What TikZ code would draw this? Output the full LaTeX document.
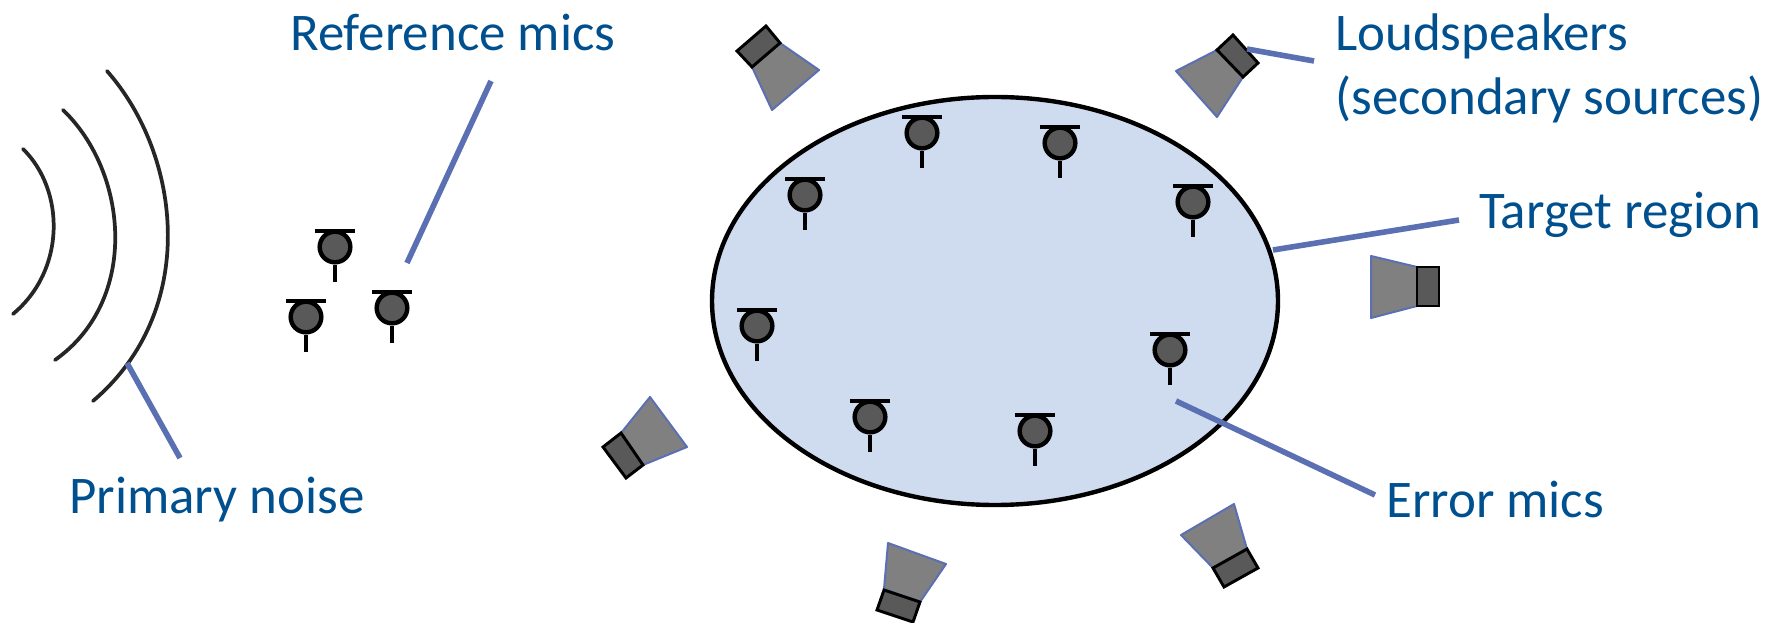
\documentclass[tikz,border=0pt]{standalone}
\usepackage{fontspec}
\setmainfont{Carlito}
\usepackage{tikz}
\usetikzlibrary{positioning}
\definecolor{labelc}{HTML}{00508F}
\definecolor{leaderc}{HTML}{5B6FB3}
\definecolor{regionc}{HTML}{CFDCEF}
\definecolor{conec}{HTML}{808080}
\definecolor{magnetc}{HTML}{595959}
\tikzset{
  lbl/.style={text=labelc, font=\fontsize{39.7}{48}\selectfont, inner sep=0pt, align=left},
  leader/.style={leaderc, line width=4.2pt},
  wave/.style={black!85, line width=2.8pt, line cap=round},
  cone/.style={fill=conec, draw=leaderc, line width=1.5pt, line join=round},
  magnet/.style={fill=magnetc, draw=black, line width=2.2pt, line join=miter},
  mic/.style={circle, fill=magnetc, draw=black, line width=3.3pt, minimum size=23pt, inner sep=0pt},
}
\begin{document}
\begin{tikzpicture}[x=0.75pt, y=-0.75pt]
  \useasboundingbox (0,0) rectangle (1781,623);
  % target region
  \draw[fill=regionc, draw=black, line width=3.3pt] (995,301) ellipse [x radius=283, y radius=204];
  % noise fronts
  \draw[wave] (107,71) .. controls (182,156) and (199,311) .. (93,401);
  \draw[wave] (63,110) .. controls (128,172) and (140,300) .. (55,360);
  \draw[wave] (23,149) .. controls (65,190) and (66,270) .. (13,314);
  % mics
  \foreach \n/\x/\y in {r1/335/247, r2/306/317, r3/392/308,
      e1/922/133, e2/1060/143, e3/805/195, e4/1193/202,
      e5/757/326, e6/1170/350, e7/870/417, e8/1035/431} {
    \node[mic] (\n) at (\x,\y) {};
    \draw[black, line width=3.3pt] (\x-20,\y-16) -- (\x+20,\y-16);
    \draw[black, line width=3.3pt] (\n.south) -- ++(0,17);
  }
  % loudspeakers
  \draw[cone] (1176,71) -- (1217,50) -- (1243,77) -- (1217,117) -- cycle;
  \draw[magnet] (1217,50) -- (1233,35) -- (1258,63) -- (1243,77) -- cycle;
  \draw[cone] (1371,256) -- (1417,267) -- (1417,306) -- (1371,318) -- cycle;
  \draw[magnet] (1417,267) -- (1439,267) -- (1439,306) -- (1417,306) -- cycle;
  \draw[cone] (650,397) -- (687,447) -- (643,465) -- (621,433) -- cycle;
  \draw[magnet] (621,433) -- (603,447) -- (626,478) -- (643,465) -- cycle;
  \draw[cone] (888,543) -- (946,564) -- (920,602) -- (884,589) -- cycle;
  \draw[magnet] (884,590) -- (920,602) -- (913,622) -- (877,610) -- cycle;
  \draw[cone] (1234,504) -- (1247,549) -- (1213,568) -- (1181,535) -- cycle;
  \draw[magnet] (1247,549) -- (1258,568) -- (1224,587) -- (1213,568) -- cycle;
  \draw[cone] (752,67) -- (780,43) -- (819,70) -- (772,110) -- cycle;
  \draw[magnet] (737,51) -- (766,26) -- (780,43) -- (752,67) -- cycle;
  % labels
  \node[lbl, anchor=west] (refmics) at (290,32) {Reference mics};
  \node[lbl, anchor=west] (primary) at (69,500) {Primary noise};
  \node[lbl, anchor=north west] (speakers) at (1335,13) {Loudspeakers\\(secondary sources)};
  \node[lbl, anchor=west] (target) at (1479,215) {Target region};
  \node[lbl, anchor=west] (errmics) at (1386,499) {Error mics};
  % leaders
  \coordinate (reffoot) at (407,263);
  \coordinate (wavefoot) at (127,363);
  \coordinate (spkfoot) at (1247,49);
  \coordinate (regfoot) at (1273,250);
  \coordinate (errfoot) at (1176,401);
  \draw[leader] (491,81) -- (reffoot);
  \draw[leader] (180,458) -- (wavefoot);
  \draw[leader] (1314,61) -- (spkfoot);
  \draw[leader] (1459,220) -- (regfoot);
  \draw[leader] (1375,495) -- (errfoot);
\end{tikzpicture}
\end{document}
